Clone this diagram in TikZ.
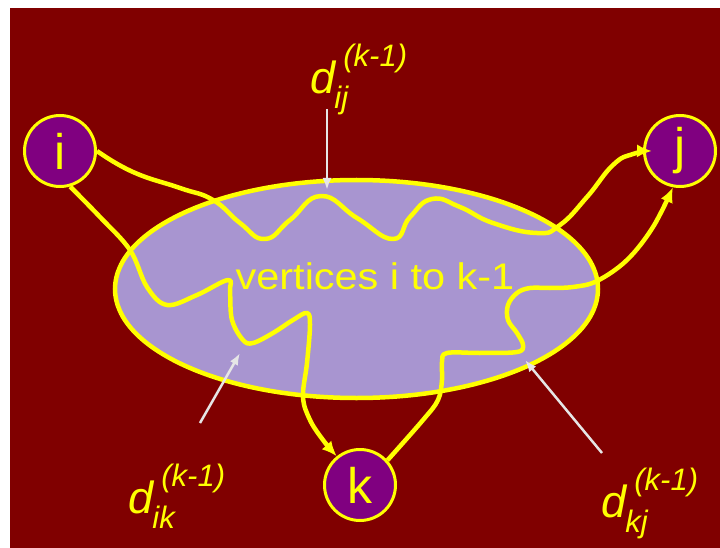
\documentclass[tikz,border=0pt]{standalone}
\usepackage{fontspec}
\setmainfont{Liberation Sans}
\newfontfamily\widesans[FakeStretch=1.12]{Liberation Sans}
\usetikzlibrary{shapes.geometric,arrows.meta}

\definecolor{slidered}{RGB}{128,0,0}
\definecolor{vpurple}{RGB}{128,0,128}
\definecolor{setlilac}{RGB}{168,149,208}
\definecolor{pathyellow}{RGB}{255,255,0}
\definecolor{pointgrey}{RGB}{230,230,230}

% d with (k-1) above and the pair below
\newcommand{\distlabel}[1]{%
  \textit{d}\kern-2pt%
  \rlap{\kern9pt\raisebox{27pt}{\fontsize{31}{31}\selectfont\textit{(k-1)}}}%
  \raisebox{-15pt}{\fontsize{31}{31}\selectfont\textit{#1}}}

\tikzset{
  vertex/.style={circle, draw=pathyellow, line width=3pt, fill=vpurple,
    minimum size=71pt, inner sep=0pt, text=pathyellow,
    font=\fontsize{50}{60}\selectfont},
  vset/.style={ellipse, draw=pathyellow, line width=4.5pt, fill=setlilac,
    minimum width=483pt, minimum height=218pt, inner sep=0pt},
  wiggle/.style={draw=pathyellow, line width=4.5pt, line join=round,
    -{Latex[length=15pt,width=13pt]}},
  pointer/.style={draw=pointgrey, line width=2.5pt,
    -{Latex[length=12pt,width=9pt]}},
  dlabel/.style={text=pathyellow, anchor=base west, inner sep=0pt,
    font=\fontsize{45}{54}\selectfont}
}

\begin{document}
\begin{tikzpicture}[x=1pt,y=-1pt]
  \useasboundingbox (0,0) rectangle (720,548);
  \fill[slidered] (10,8) rectangle (720,548);

  \node[vset] (inner) at (356.5,289) {};
  \node[text=pathyellow, anchor=base, inner sep=0pt,
    font=\widesans\fontsize{37}{44}\selectfont] (innertext) at (375,289) {vertices i to k-1};

  \node[vertex] (i) at (60,151) {i};
  \node[vertex] (j) at (680,151) {j};
  \node[vertex] (k) at (360,485) {k};

  % paths
  \draw[wiggle] plot[smooth, tension=0.8] coordinates {(i.east) (133,172) (180,188)
    (213,200) (240,223) (265,239) (290,220) (321,196) (357,218) (393,239) (410,217)
    (432,199) (460,207) (493,223) (537,233) (560,225) (587,197) (613,165) (633,154)
    ([xshift=9pt]j.west)};
  \draw[wiggle] plot[smooth, tension=0.6] coordinates {(i.-74) (100,217) (130,250)
    (147,287) (167,305) (197,295) (228,280) (230,292) (232,320) (243,340) (253,343)
    (273,333) (293,320) (307,313) (310,325) (307,363) (303,397) (310,420) (323,440)
    (k.129)};
  \draw[wiggle] plot[smooth, tension=0.6] coordinates {(k.42) (423,420) (438,400)
    (442,380) (442,362) (447,353) (480,353) (517,352) (523,345) (517,333) (508,320)
    (508,305) (517,293) (530,288) (550,288) (573,287) (597,281) (627,260) (653,227)
    (j.-101)};

  % pointers to the paths
  \coordinate (ijtail) at (327,109);
  \coordinate (ijtip) at (327,190);
  \coordinate (iktail) at (200,423);
  \coordinate (iktip) at (240,353);
  \coordinate (kjtail) at (602,453);
  \coordinate (kjtip) at (525,360);
  \draw[pointer] (ijtail) -- (ijtip);
  \draw[pointer] (iktail) -- (iktip);
  \draw[pointer] (kjtail) -- (kjtip);

  \node[dlabel] (dij) at (310,94) {\distlabel{ij}};
  \node[dlabel] (dik) at (128,513) {\distlabel{ik}};
  \node[dlabel] (dkj) at (601,517) {\distlabel{kj}};
\end{tikzpicture}
\end{document}
